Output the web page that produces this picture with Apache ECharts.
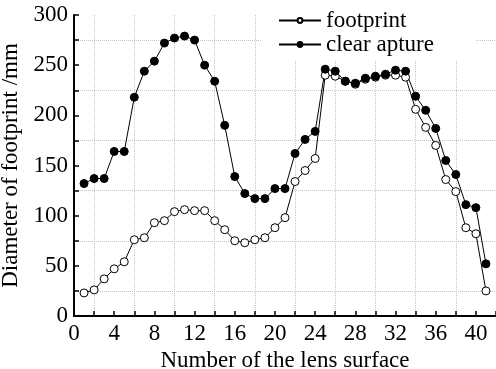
<!DOCTYPE html>
<html>
<head>
<meta charset="utf-8">
<script src="https://cdn.jsdelivr.net/npm/echarts@6/dist/echarts.min.js"></script>
<style>
  html, body { margin: 0; padding: 0; background: #fff; }
  #chart { width: 496px; height: 369px; }
</style>
</head>
<body>
<div id="chart"></div>
<script>
const surfaces = [1, 2, 3, 4, 5, 6, 7, 8, 9, 10, 11, 12, 13, 14, 15, 16, 17, 18, 19, 20, 21,
  22, 23, 24, 25, 26, 27, 28, 29, 30, 31, 32, 33, 34, 35, 36, 37, 38, 39, 40, 41]
const footprint = [23, 26, 37, 47, 54, 76, 78, 93, 95, 104, 106, 105, 105, 95, 86, 75, 73, 76, 78, 88, 98,
  134, 145, 157, 240, 239, 234, 231, 236, 238, 240, 240, 238, 206, 188, 170, 136, 124, 88, 82, 25]
const clearAperture = [132, 137, 137, 164, 164, 218, 244, 254, 272, 277, 279, 275, 250, 234, 190, 139, 122, 117, 117, 127, 127,
  162, 176, 184, 246, 244, 234, 232, 237, 239, 241, 245, 244, 219, 205, 187, 155, 141, 111, 108, 52]

const font = 'Liberation Serif'
const gridColor = '#c4c4c4'

const chart = echarts.init(document.getElementById('chart'))

chart.setOption({
  animation: false,
  backgroundColor: '#fff',
  grid: { left: 74, right: 0, top: 15, bottom: 53, outerBoundsMode: 'none' },
  legend: {
    orient: 'vertical',
    left: 262,
    top: 0,
    backgroundColor: '#fff',
    padding: [9, 42, 5, 16],
    itemWidth: 42,
    itemHeight: 6,
    itemGap: 1,
    textStyle: { fontFamily: font, fontSize: 23, color: '#000' },
    data: ['footprint', 'clear apture'],
  },
  xAxis: {
    type: 'value',
    min: 0,
    max: 42,
    interval: 2,
    name: 'Number of the lens surface',
    nameLocation: 'middle',
    nameGap: 31,
    nameTextStyle: { fontFamily: font, fontSize: 23, color: '#000' },
    axisLine: { lineStyle: { color: '#000', width: 2 } },
    axisTick: { inside: true, length: 5, lineStyle: { color: '#000', width: 1.5 } },
    axisLabel: {
      fontFamily: font, fontSize: 23, color: '#000', margin: 6,
      formatter: (v) => (v % 4 === 0 && v <= 40 ? String(v) : ''),
    },
    splitLine: {
      show: true,
      showMaxLine: false,
      lineStyle: { color: ['transparent', gridColor], type: 'dotted', width: 1 },
    },
  },
  yAxis: {
    type: 'value',
    min: 0,
    max: 300,
    interval: 25,
    name: 'Diameter of footprint /mm',
    nameLocation: 'middle',
    nameGap: 44,
    nameTextStyle: { fontFamily: font, fontSize: 23, color: '#000' },
    axisLine: { show: true, lineStyle: { color: '#000', width: 2 } },
    axisTick: { show: true, inside: true, length: 5, lineStyle: { color: '#000', width: 1.5 } },
    axisLabel: {
      fontFamily: font, fontSize: 23, color: '#000', margin: 6,
      formatter: (v) => (v % 50 === 0 ? String(v) : ''),
    },
    splitLine: {
      show: true,
      lineStyle: { color: ['transparent', gridColor], type: 'dotted', width: 1 },
    },
  },
  series: [
    {
      name: 'footprint',
      type: 'line',
      data: surfaces.map((s, i) => [s, footprint[i]]),
      symbol: 'circle',
      symbolSize: 8,
      lineStyle: { color: '#000', width: 1 },
      itemStyle: { color: '#fff', borderColor: '#000', borderWidth: 1 },
    },
    {
      name: 'clear apture',
      type: 'line',
      data: surfaces.map((s, i) => [s, clearAperture[i]]),
      symbol: 'circle',
      symbolSize: 8,
      lineStyle: { color: '#000', width: 1 },
      itemStyle: { color: '#000', borderColor: '#000', borderWidth: 1 },
    },
  ],
})
</script>
</body>
</html>
